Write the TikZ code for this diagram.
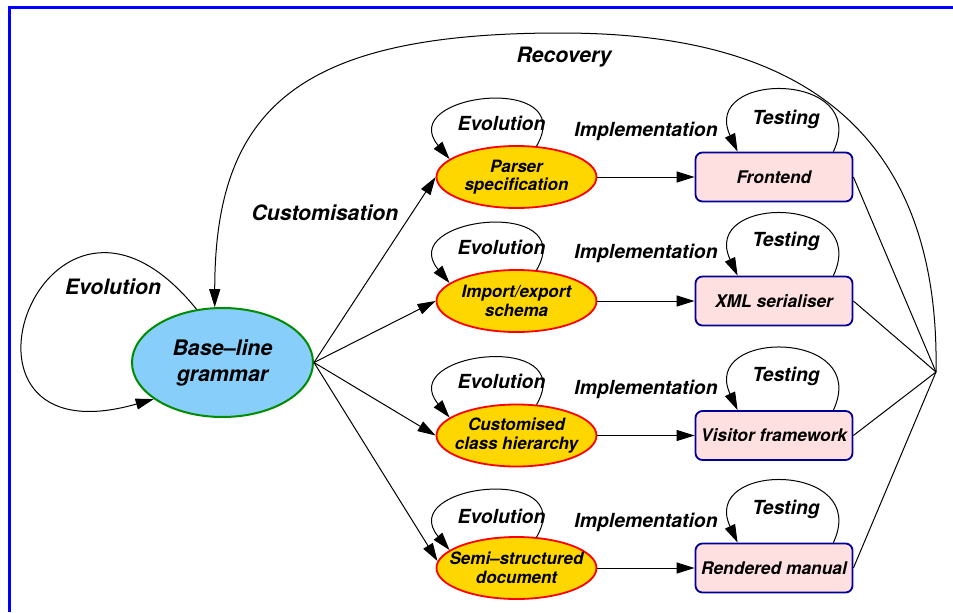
\documentclass[tikz,border=0pt]{standalone}
\usepackage{fontspec}
\setmainfont{TeX Gyre Heros}
\usetikzlibrary{positioning,shapes.geometric,arrows.meta}

\definecolor{gramblue}{RGB}{135,206,250}
\definecolor{gramgreen}{RGB}{0,140,0}
\definecolor{specgold}{RGB}{255,215,0}
\definecolor{artpink}{RGB}{255,224,224}
\definecolor{artborder}{RGB}{0,0,150}

\begin{document}
\begin{tikzpicture}[
        on grid,
        grammar/.style={ellipse, draw=gramgreen, fill=gramblue, line width=1pt,
            minimum width=90.5pt, minimum height=54.5pt, inner sep=0pt, align=center,
            font=\fontsize{10.7}{13}\selectfont\bfseries\itshape},
        spec/.style={ellipse, draw=red, fill=specgold, line width=0.9pt,
            minimum width=80pt, minimum height=31pt, inner xsep=-6pt, inner ysep=0pt,
            align=center, font=\fontsize{8.5}{9.3}\selectfont\bfseries\itshape},
        artefact/.style={rectangle, rounded corners=3.5pt, draw=artborder, fill=artpink,
            line width=0.9pt, minimum width=78.5pt, minimum height=24.5pt, inner sep=1pt,
            font=\fontsize{8.7}{10}\selectfont\bfseries\itshape},
        lbl/.style={inner sep=0pt, font=\fontsize{9.7}{11}\selectfont\bfseries\itshape},
        biglbl/.style={inner sep=0pt, font=\fontsize{10.6}{12}\selectfont\bfseries\itshape},
        flow/.style={-{Triangle[length=9pt,width=5.5pt]}, line width=0.5pt},
        plain/.style={line width=0.5pt},
        frame/.style={blue, line width=1.5pt}
    ]
                \useasboundingbox (-111.25pt,-124.75pt) rectangle (365.25pt,181.25pt);
                \draw[frame] (-106.25pt,-124.75pt) |- (365.25pt,177.5pt);

                \node[grammar] (bl) at (0,0) {Base\textendash line\\grammar};
                \node[spec, above right=92.75pt and 147pt of bl] (ps) {Parser\\specification};
                \node[spec, below=62pt of ps] (ie) {Import/export\\schema};
                \node[spec, below=67.25pt of ie] (ch) {Customised\\class hierarchy};
                \node[spec, below=66.25pt of ch] (sd) {Semi\textendash structured\\document};
                \node[artefact, right=128.75pt of ps] (fe) {Frontend};
                \node[artefact, right=128.75pt of ie] (xs) {XML serialiser};
                \node[artefact, right=128.75pt of ch] (vf) {Visitor framework};
                \node[artefact, right=128.75pt of sd] (rm) {Rendered manual};
                \coordinate (join) at (356.75pt,-4.75pt);
                \coordinate (rectop) at (168.75pt,164.75pt);

                \node[biglbl, above left=37.9pt and 54.75pt of bl] (evo0) {Evolution};
                \node[biglbl, above right=74.75pt and 51.25pt of bl] (cust) {Customisation};
                \node[biglbl] (rec) at ([shift={(2pt,-12pt)}]rectop) {Recovery};
                \node[lbl, above=27pt of ps, xshift=-7.5pt] (evo1) {Evolution};
                \node[lbl, above=27pt of ie, xshift=-7.5pt] (evo2) {Evolution};
                \node[lbl, above=27pt of ch, xshift=-7.5pt] (evo3) {Evolution};
                \node[lbl, above=26pt of sd, xshift=-7.5pt] (evo4) {Evolution};
                \node[lbl, above=29pt of fe, xshift=6pt] (test1) {Testing};
                \node[lbl, above=30pt of xs, xshift=6pt] (test2) {Testing};
                \node[lbl, above=29.5pt of vf, xshift=6pt] (test3) {Testing};
                \node[lbl, above=29.5pt of rm, xshift=6pt] (test4) {Testing};

                % base-line grammar
                \draw[flow] (bl.116) to[out=129, in=196, looseness=6.2] (bl.208);
                \draw[flow] (bl.east) -- (ps.west);
                \draw[flow] (bl.east) -- (ie.west);
                \draw[flow] (bl.east) -- (ch.west);
                \draw[flow] (bl.east) -- (sd.175);

                % customised grammars
                \draw[flow] (ps.57) to[out=60, in=130, looseness=2.5] (ps.165);
                \draw[flow] (ie.57) to[out=60, in=130, looseness=2.5] (ie.165);
                \draw[flow] (ch.57) to[out=60, in=130, looseness=2.5] (ch.165);
                \draw[flow] (sd.57) to[out=60, in=130, looseness=2.5] (sd.165);
                \draw[flow] (ps) -- node[lbl, yshift=23pt] (imp1) {Implementation} (fe);
                \draw[flow] (ie) -- node[lbl, yshift=24pt] (imp2) {Implementation} (xs);
                \draw[flow] (ch) -- node[lbl, yshift=23pt] (imp3) {Implementation} (vf);
                \draw[flow] (sd) -- node[lbl, yshift=23pt] (imp4) {Implementation} (rm);

                % generated artefacts
                \draw[flow] ([xshift=-10pt]fe.north east) to[out=65, in=115, looseness=2.4] ([xshift=21.5pt]fe.north west);
                \draw[flow] ([xshift=-10pt]xs.north east) to[out=65, in=115, looseness=2.4] ([xshift=21.5pt]xs.north west);
                \draw[flow] ([xshift=-10pt]vf.north east) to[out=65, in=115, looseness=2.4] ([xshift=21.5pt]vf.north west);
                \draw[flow] ([xshift=-10pt]rm.north east) to[out=65, in=115, looseness=2.4] ([xshift=21.5pt]rm.north west);
                \draw[plain] (fe.east) -- (join);
                \draw[plain] (xs.east) -- (join);
                \draw[plain] (vf.east) -- (join);
                \draw[plain] (rm.east) -- (join);
                \draw[flow] (join) .. controls +(89:150pt) and +(0:80pt) .. (rectop)
                    .. controls +(180:130pt) and +(90:100pt) .. (bl.98);
\end{tikzpicture}
\end{document}
